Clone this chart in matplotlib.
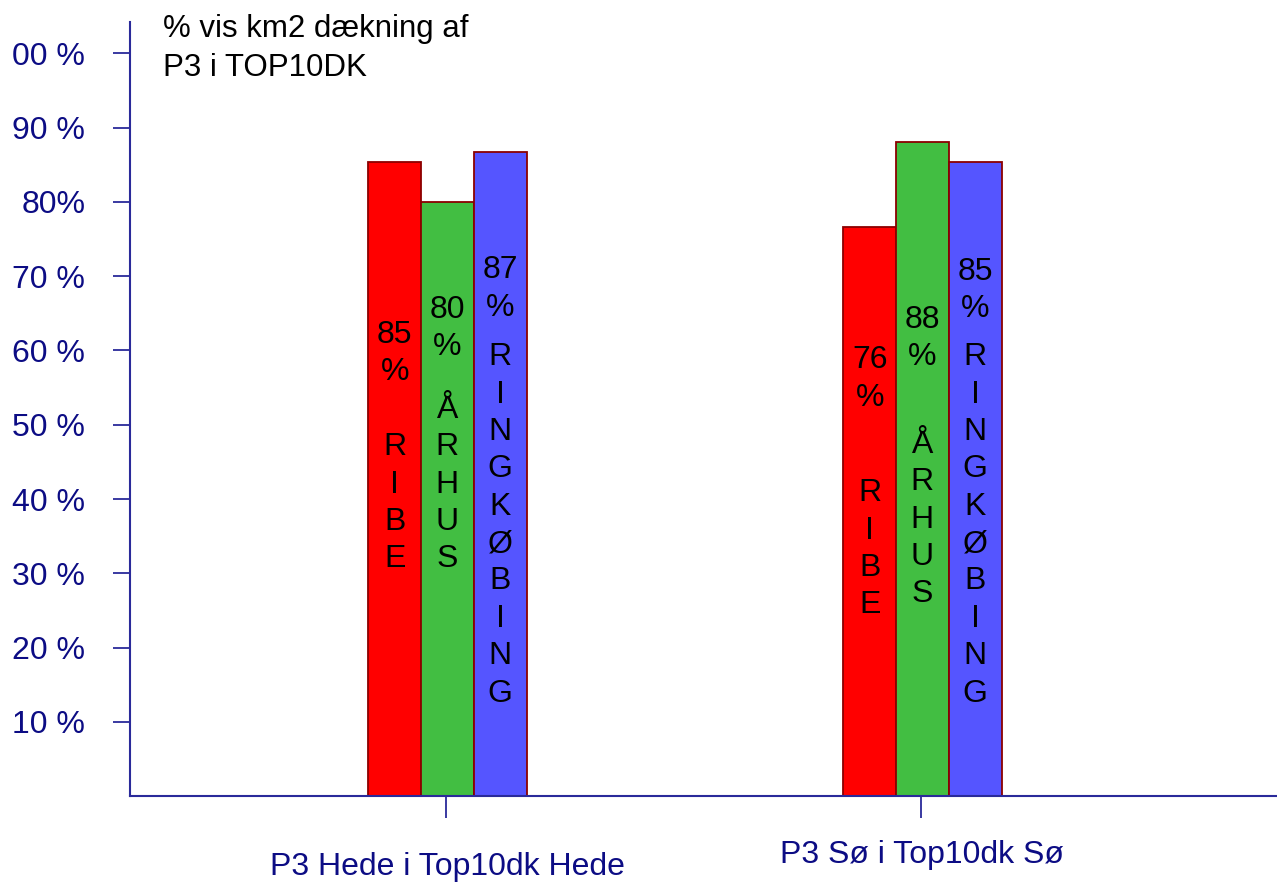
import matplotlib

matplotlib.use("Agg")
import matplotlib.pyplot as plt
import matplotlib.transforms as mtransforms
import numpy as np

# data
categories = ["P3 Hede i Top10dk Hede", "P3 Sø i Top10dk Sø"]
series = ["RIBE", "ÅRHUS", "RINGKØBING"]
ribe = [85.4, 76.6]
aarhus = [80.0, 88.1]
ringkobing = [86.7, 85.4]
shown = [[85, 76], [80, 88], [87, 85]]  # labels printed in the bars
yticks = [10, 20, 30, 40, 50, 60, 70, 80, 90, 100]
ytick_labels = ["10 %", "20 %", "30 %", "40 %", "50 %", "60 %", "70 %", "80%", "90 %", "00 %"]
title = "% vis km2 dækning af\nP3 i TOP10DK"

# layout (data units) for the text inside the bars
value_top = [[64.1, 60.7], [67.5, 66.1], [72.8, 72.6]]
name_top = [[49.0, 42.8], [54.0, 49.3], [61.1, 61.1]]

colors = ["#ff0000", "#42be42", "#5555ff"]
edge = "#8b0000"
navy = "#0c0c84"
axis_col = "#2a2a9a"
FONT = "Liberation Sans"
FS = 23

fig = plt.figure(figsize=(12.77, 8.82), dpi=100)
ax = fig.add_axes([130 / 1277, 1 - 796.3 / 882, 1 - 130 / 1277, 774.3 / 882])

x = np.arange(len(categories))
width = 0.111
shift = 0.003
for i, (vals, col) in enumerate(zip([ribe, aarhus, ringkobing], colors)):
    xs = x + (i - 1) * width + shift
    ax.bar(xs, vals, width=width, color=col, edgecolor=edge, linewidth=1.3, zorder=2)
    for j, xc in enumerate(xs):
        ax.text(xc, value_top[i][j], f"{shown[i][j]}\n%", ha="center", va="top",
                fontsize=FS, family=FONT, linespacing=1.32, zorder=3)
        ax.text(xc, name_top[i][j], "\n".join(series[i]), ha="center", va="top",
                fontsize=FS, family=FONT, linespacing=1.32, zorder=3)

ax.set_xlim(-316 / 475, 1 + 356 / 475)
ax.set_ylim(0, 104.2)

ax.set_yticks(yticks)
ax.set_yticklabels(ytick_labels, fontsize=FS, family=FONT, color=navy)
ax.tick_params(axis="y", length=12.2, width=1.3, color=axis_col, pad=20)
ax.set_xticks(x)
ax.set_xticklabels([])
ax.tick_params(axis="x", length=15.8, width=1.3, color=axis_col)

for side in ["top", "right"]:
    ax.spines[side].set_visible(False)
for side in ["left", "bottom"]:
    ax.spines[side].set_color(axis_col)
    ax.spines[side].set_linewidth(1.5)

# category labels sit at slightly different heights in the original
label_y = [875, 863]
trans = mtransforms.blended_transform_factory(ax.transData, fig.transFigure)
for xc, lab, py in zip(x, categories, label_y):
    ax.text(xc + shift, 1 - py / 882, lab, transform=trans,
            ha="center", va="baseline", fontsize=FS, family=FONT, color=navy)

fig.text(163 / 1277, 1 - 14 / 882, title, ha="left", va="top", fontsize=22.5,
         family=FONT, linespacing=1.38)

fig.savefig("out.png", dpi=100)
